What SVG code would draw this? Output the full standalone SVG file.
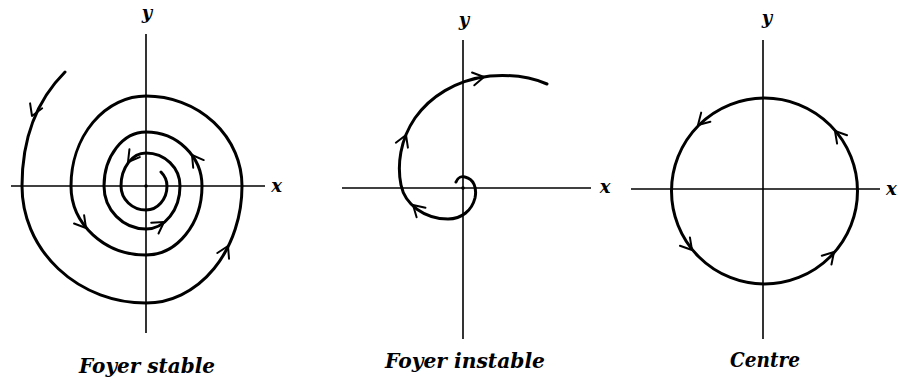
<svg xmlns="http://www.w3.org/2000/svg" xmlns:xlink="http://www.w3.org/1999/xlink" width="898" height="383" viewBox="0 0 898 383">
<style>
.ax{stroke:#000;stroke-width:1.6;fill:none}
.cv{stroke:#000;stroke-width:3;fill:none;stroke-linecap:round;stroke-linejoin:round}
.ch{stroke:#000;stroke-width:2;fill:none;stroke-linecap:round;stroke-linejoin:round}
.lb{font-family:"DejaVu Serif","Liberation Serif",serif;font-weight:bold;font-style:italic;fill:#000}
.t{font-size:20px}
.a{font-size:18px}
</style>
<defs>
<path id="chev" class="ch" d="M-11,-6.5 L0,0 L-11,6.5"/>
</defs>
<rect width="898" height="383" fill="#fff"/>

<g id="foyer-stable">
<line class="ax" x1="11" y1="186" x2="265" y2="186"/>
<line class="ax" x1="146" y1="34" x2="146" y2="333"/>
<circle cx="146" cy="186" r="1.8" fill="#000"/>
<path class="cv" d="M65,72 C42,95 22,130 22,186 A124,117 0 0 0 146,303 A96,117 0 0 0 242,186 A96,90 0 0 0 146,96 A75,90 0 0 0 71,186 A75,69 0 0 0 146,255 A56,69 0 0 0 202,186 A56,54 0 0 0 146,132 A42,54 0 0 0 104,186 A42,43 0 0 0 146,229 A34,43 0 0 0 180,186 A34,33 0 0 0 146,153 A25,33 0 0 0 121,186 A25,24 0 0 0 146,210 A21,24 0 0 0 167,186 C167,180 165,176 161,172"/>
<use xlink:href="#chev" transform="translate(32,116) rotate(112)"/>
<use xlink:href="#chev" transform="translate(228,246) rotate(-64)"/>
<use xlink:href="#chev" transform="translate(192,155) rotate(-126)"/>
<use xlink:href="#chev" transform="translate(128,162) rotate(127)"/>
<use xlink:href="#chev" transform="translate(164,222) rotate(-34)"/>
<use xlink:href="#chev" transform="translate(86,228) rotate(51)"/>
<text class="lb a" x="147" y="19" text-anchor="middle">y</text>
<text class="lb a" x="276.5" y="192" text-anchor="middle">x</text>
<text class="lb t" x="79" y="373" textLength="136" lengthAdjust="spacingAndGlyphs">Foyer stable</text>
</g>

<g id="foyer-instable">
<line class="ax" x1="342" y1="188" x2="591" y2="188"/>
<line class="ax" x1="463" y1="40" x2="463" y2="339"/>
<circle cx="463" cy="188" r="1.8" fill="#000"/>
<path class="cv" d="M456,182 C458,177 462,176 465,177 C474,179 477,188 475,198 C472,210 462,219 448,219 C425,219 405,205 401,185 C397,165 400,140 415,118 C430,97 455,80 490,76 C515,74 533,78 547,84"/>
<use xlink:href="#chev" transform="translate(413,205) rotate(-137)"/>
<use xlink:href="#chev" transform="translate(406,135) rotate(-68)"/>
<use xlink:href="#chev" transform="translate(484,77) rotate(-10)"/>
<text class="lb a" x="464" y="26" text-anchor="middle">y</text>
<text class="lb a" x="605" y="193" text-anchor="middle">x</text>
<text class="lb t" x="385" y="368" textLength="160" lengthAdjust="spacingAndGlyphs">Foyer instable</text>
</g>

<g id="centre">
<line class="ax" x1="631" y1="189" x2="880" y2="189"/>
<line class="ax" x1="763" y1="40" x2="763" y2="339"/>
<circle class="cv" cx="764.5" cy="191" r="93"/>
<use xlink:href="#chev" transform="translate(698,125) rotate(135)"/>
<use xlink:href="#chev" transform="translate(835,131) rotate(-130)"/>
<use xlink:href="#chev" transform="translate(692,250) rotate(50)"/>
<use xlink:href="#chev" transform="translate(834,252) rotate(-48)"/>
<text class="lb a" x="767" y="24" text-anchor="middle">y</text>
<text class="lb a" x="886" y="195">x</text>
<text class="lb t" x="730" y="367" textLength="70" lengthAdjust="spacingAndGlyphs">Centre</text>
</g>
</svg>
